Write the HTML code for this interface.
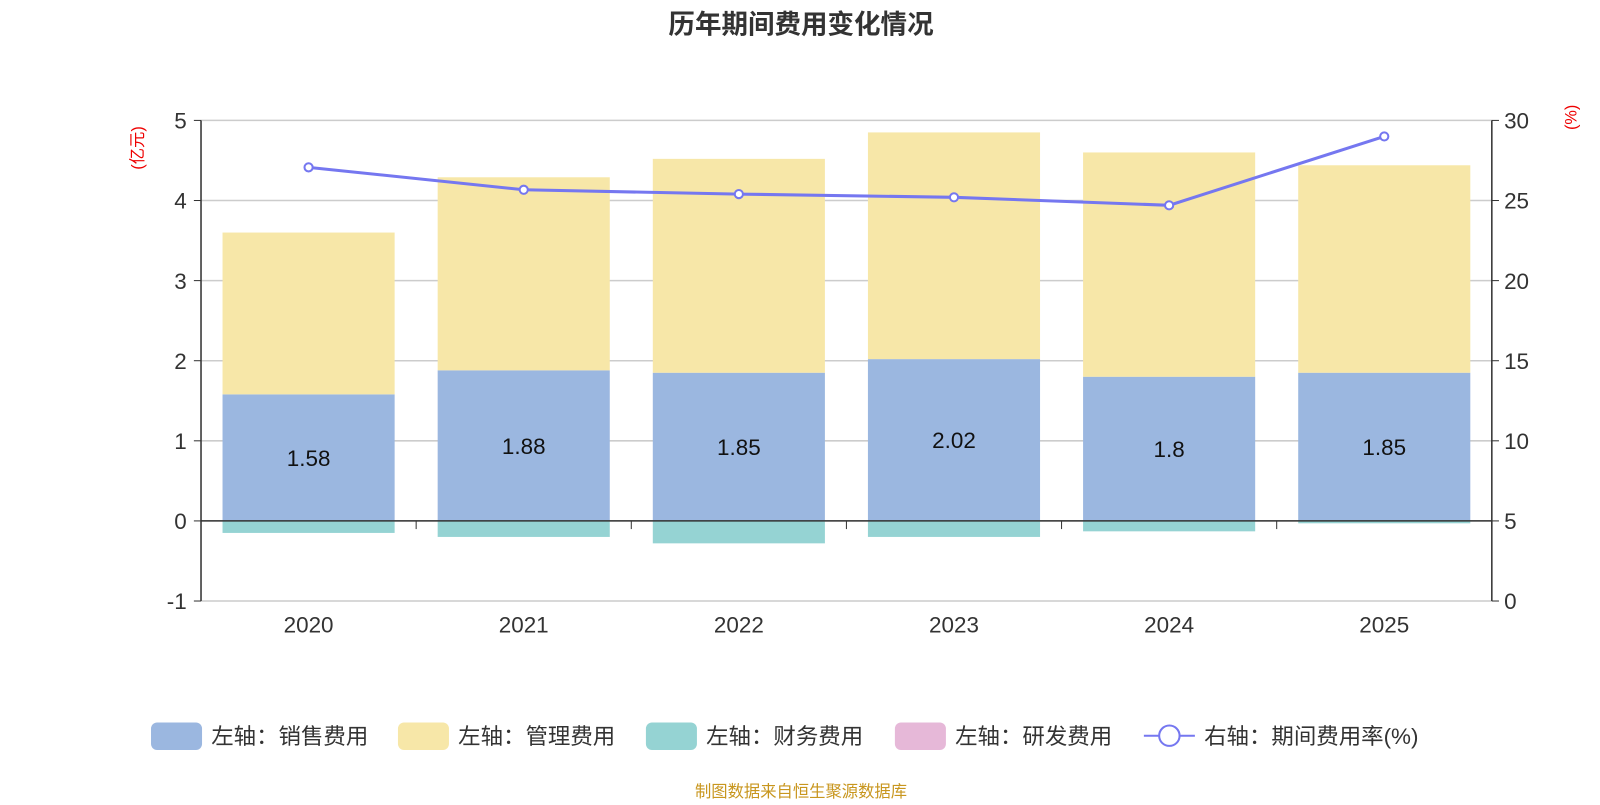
<!DOCTYPE html>
<html><head><meta charset="utf-8"><style>
body{margin:0;background:#fff;font-family:"Liberation Sans","Noto Sans CJK SC",sans-serif;}
</style></head><body>
<svg id="c" width="1600" height="800" xmlns="http://www.w3.org/2000/svg" font-family="Liberation Sans, Noto Sans CJK SC, sans-serif">
<g transform="scale(1.0204)">
<text x="785" y="33" text-anchor="middle" font-size="26" font-weight="bold" fill="#333">历年期间费用变化情况</text>
<text transform="translate(140,145) rotate(-90)" text-anchor="middle" font-size="16" fill="#e00">(亿元)</text>
<text transform="translate(1545,115) rotate(-90)" text-anchor="middle" font-size="16" fill="#e00">(%)</text>
<g id="grid"></g><g id="bars"></g><g id="line"></g><g id="axes"></g>
<g font-size="22" fill="#333">
<rect x="148" y="708" width="50" height="27" rx="6" fill="#9bb7e0"/><text x="207" y="729">左轴：销售费用</text>
<rect x="390" y="708" width="50" height="27" rx="6" fill="#f7e7a8"/><text x="449" y="729">左轴：管理费用</text>
<rect x="633" y="708" width="50" height="27" rx="6" fill="#95d3d3"/><text x="692" y="729">左轴：财务费用</text>
<rect x="877" y="708" width="50" height="27" rx="6" fill="#e6b8d8"/><text x="936" y="729">左轴：研发费用</text>
<line x1="1121" y1="721" x2="1171" y2="721" stroke="#7577f0" stroke-width="2"/><circle cx="1146" cy="721" r="10" fill="#fff" stroke="#7577f0" stroke-width="2"/><text x="1180" y="729">右轴：期间费用率(%)</text>
</g>
<text x="785" y="781" text-anchor="middle" font-size="16" fill="#c8961e">制图数据来自恒生聚源数据库</text>
</g>
</svg>
<script>
const categories=["2020","2021","2022","2023","2024","2025"];
const sales=[1.58,1.88,1.85,2.02,1.8,1.85];
const admin=[2.02,2.41,2.67,2.83,2.80,2.59];
const finance=[-0.15,-0.2,-0.28,-0.2,-0.13,-0.03];
const rate=[27.07,25.67,25.4,25.2,24.7,29.0];
const leftTicks=[-1,0,1,2,3,4,5];
const rightTicks=[0,5,10,15,20,25,30];
const NS="http://www.w3.org/2000/svg";
const X0=197,X1=1462,YT=118,YB=589;
const yL=v=>YB-(v+1)/6*(YB-YT);
const yR=v=>YB-v/30*(YB-YT);
const bw=(X1-X0)/categories.length;
const xc=i=>X0+bw*(i+0.5);
function mk(p,t,a){const e=document.createElementNS(NS,t);for(const k in a)e.setAttribute(k,a[k]);document.getElementById(p).appendChild(e);return e;}
leftTicks.forEach(v=>{
 const l=mk('grid','line',{x1:X0,x2:X1,y1:yL(v),y2:yL(v),stroke:'#ccc','stroke-width':1.5});
 
 
 const t=mk('axes','text',{x:X0-14,y:yL(v)+8,'text-anchor':'end','font-size':22,fill:'#333'});t.textContent=v;
 
 
 mk('axes','line',{x1:X0-7,x2:X0,y1:yL(v),y2:yL(v),stroke:'#333'});
});
rightTicks.forEach(v=>{
 const t=mk('axes','text',{x:X1+12,y:yR(v)+8,'font-size':22,fill:'#333'});t.textContent=v;
 
 
 mk('axes','line',{x1:X1,x2:X1+7,y1:yR(v),y2:yR(v),stroke:'#333'});
});
categories.forEach((c,i)=>{
 const x=xc(i)-bw*0.4,w=bw*0.8;
 const b1=mk('bars','rect',{x:x,y:yL(sales[i]),width:w,height:yL(0)-yL(sales[i]),fill:'#9bb7e0'});
 
 
 const top=sales[i]+admin[i];
 const b2=mk('bars','rect',{x:x,y:yL(top),width:w,height:yL(sales[i])-yL(top),fill:'#f7e7a8'});
 
 
 const b3=mk('bars','rect',{x:x,y:yL(0),width:w,height:yL(finance[i])-yL(0),fill:'#95d3d3'});
 
 
 const t=mk('bars','text',{x:xc(i),y:yL(sales[i]/2)+8,'text-anchor':'middle','font-size':22,fill:'#111'});t.textContent=sales[i];
 
 
 const xl=mk('axes','text',{x:xc(i),y:620,'text-anchor':'middle','font-size':22,fill:'#333'});xl.textContent=c;
 
 
 mk('axes','line',{x1:X0+bw*(i+1),x2:X0+bw*(i+1),y1:yL(0),y2:yL(0)+8,stroke:'#333'});
});
mk('axes','line',{x1:X0,x2:X0,y1:YT,y2:YB,stroke:'#333','stroke-width':1.5});
mk('axes','line',{x1:X1,x2:X1,y1:YT,y2:YB,stroke:'#333','stroke-width':1.5});
mk('axes','line',{x1:X0,x2:X1,y1:yL(0),y2:yL(0),stroke:'#333','stroke-width':1.5});
const pts=rate.map((v,i)=>xc(i)+','+yR(v)).join(' ');
const pl=mk('line','polyline',{points:pts,fill:'none',stroke:'#7577f0','stroke-width':3});


rate.forEach((v,i)=>{
 const c=mk('line','circle',{cx:xc(i),cy:yR(v),r:4,fill:'#fff',stroke:'#7577f0','stroke-width':2});
 
 
});
</script>
</body></html>
